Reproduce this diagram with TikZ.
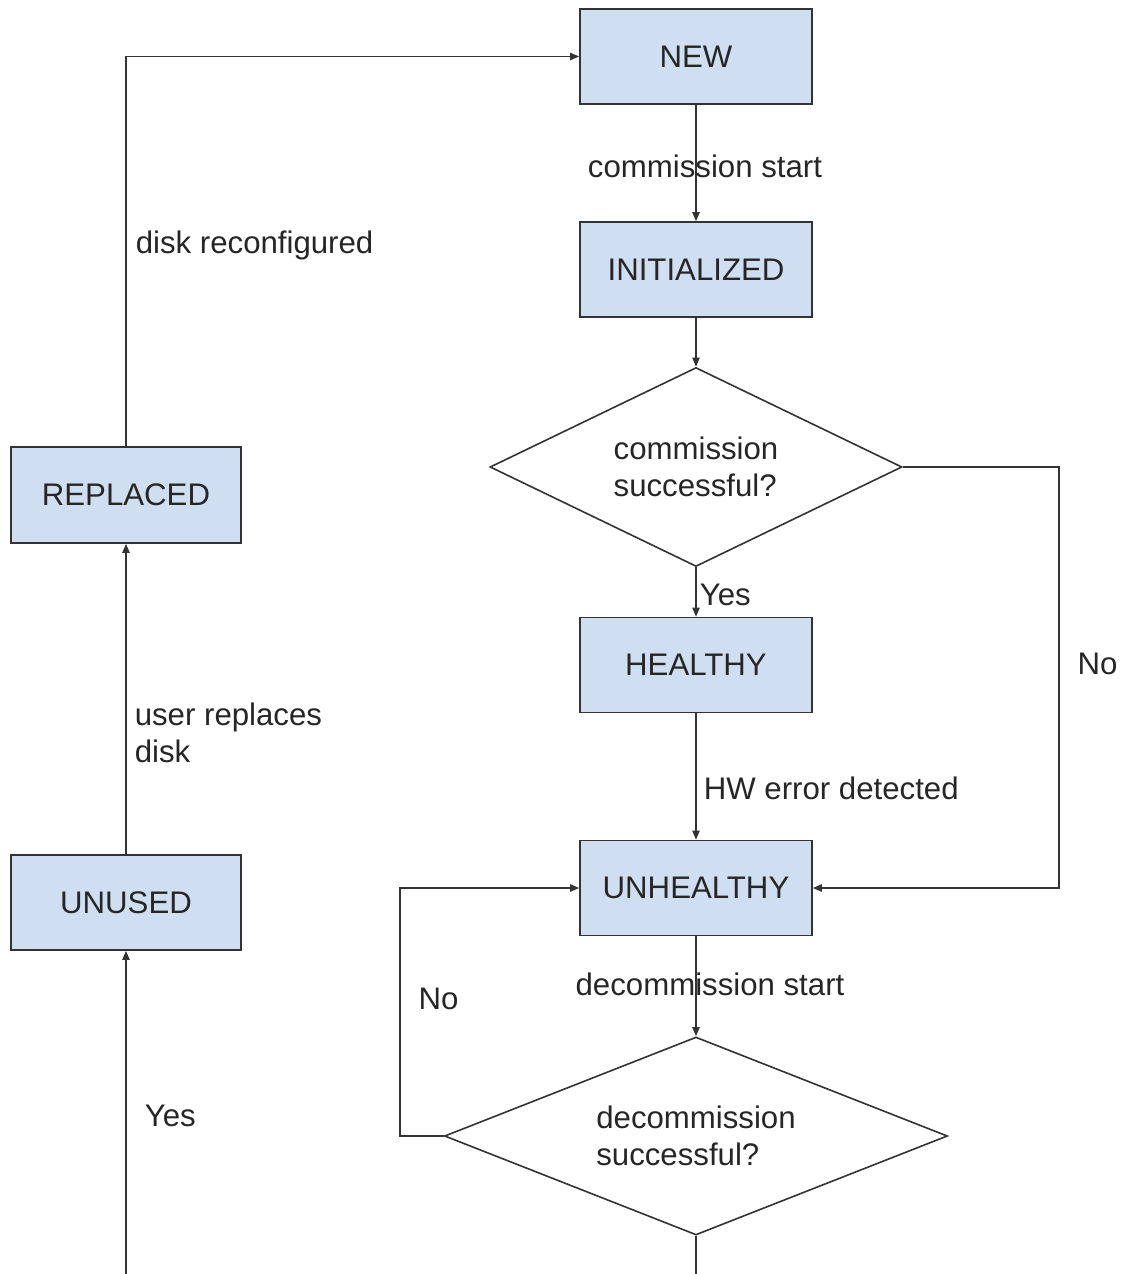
\documentclass[tikz,border=0pt]{standalone}
\usepackage{fontspec}
\setmainfont{Liberation Sans}
\usetikzlibrary{positioning,arrows.meta,shapes.geometric}
\definecolor{boxfill}{HTML}{CFDFF1}
\definecolor{ink}{HTML}{333333}
\newcommand{\lblfont}{\fontsize{15.6}{18.5}\selectfont}

\begin{document}
\begin{tikzpicture}[
  x=0.5pt, y=-0.5pt,
  state/.style={draw=ink, fill=boxfill, line width=0.8pt, minimum width=116pt,
    minimum height=47.5pt, text=black!85, font=\lblfont},
  check/.style={diamond, draw=ink, line width=0.8pt, aspect=2, align=left,
    inner sep=0pt, text=black!85, font=\lblfont},
  lbl/.style={font=\lblfont, text=black!85, inner sep=0pt},
  arrow/.style={-{Triangle[length=4.5pt,width=3.6pt]}, draw=ink, line width=0.8pt},
  line/.style={draw=ink, line width=0.8pt},
  on grid
]
\useasboundingbox (0,0) rectangle (1129,1274);
\node[state] (new) at (696,56.5) {NEW};
\node[state, below=106.5pt of new] (init) {INITIALIZED};
\node[check, minimum width=206pt, minimum height=99.5pt,
  below=98.75pt of init] (commok) {commission\\successful?};
\node[state, below=99pt of commok] (healthy) {HEALTHY};
\node[state, below=111.5pt of healthy] (unhealthy) {UNHEALTHY};
\node[check, minimum width=251.5pt, minimum height=99pt,
  below=124pt of unhealthy] (decomok) {decommission\\successful?};
\node[state, minimum width=115pt, minimum height=48pt] (replaced) at (126,495) {REPLACED};
\node[state, minimum width=115pt, below=203.75pt of replaced] (unused) {UNUSED};
\coordinate (edge) at (0,1274);
\coordinate (exit) at (decomok.south |- edge);
\coordinate (back) at (unused.south |- edge);

\draw[arrow] (new) -- (init)
  node[lbl, pos=0.53, xshift=4.5pt] {commission start};
\draw[arrow] (init) -- (commok);
\draw[arrow] (commok) -- (healthy)
  node[lbl, anchor=west, pos=0.56, xshift=1.5pt] {Yes};
\draw[arrow] (commok.east) -- ++(78pt,0) |- (unhealthy.east)
  node[lbl, anchor=west, pos=0.234, xshift=9pt] {No};
\draw[arrow] (healthy) -- (unhealthy)
  node[lbl, anchor=west, pos=0.59, xshift=3.5pt] {HW error detected};
\draw[arrow] (unhealthy) -- (decomok)
  node[lbl, pos=0.485, xshift=7pt] {decommission start};
\draw[arrow] (decomok.west) -- ++(-22pt,0) |- (unhealthy.west)
  node[lbl, anchor=west, pos=0.276, xshift=9pt] {No};
\draw[line] (decomok) -- (exit);
\draw[arrow] (back) -- (unused)
  node[lbl, anchor=west, pos=0.49, xshift=9pt] {Yes};
\draw[arrow] (unused) -- (replaced)
  node[lbl, anchor=west, align=left, pos=0.39, xshift=4pt] {user replaces\\disk};
\draw[arrow] (replaced) |- (new)
  node[lbl, anchor=west, pos=0.258, xshift=4.5pt] {disk reconfigured};
\end{tikzpicture}
\end{document}
